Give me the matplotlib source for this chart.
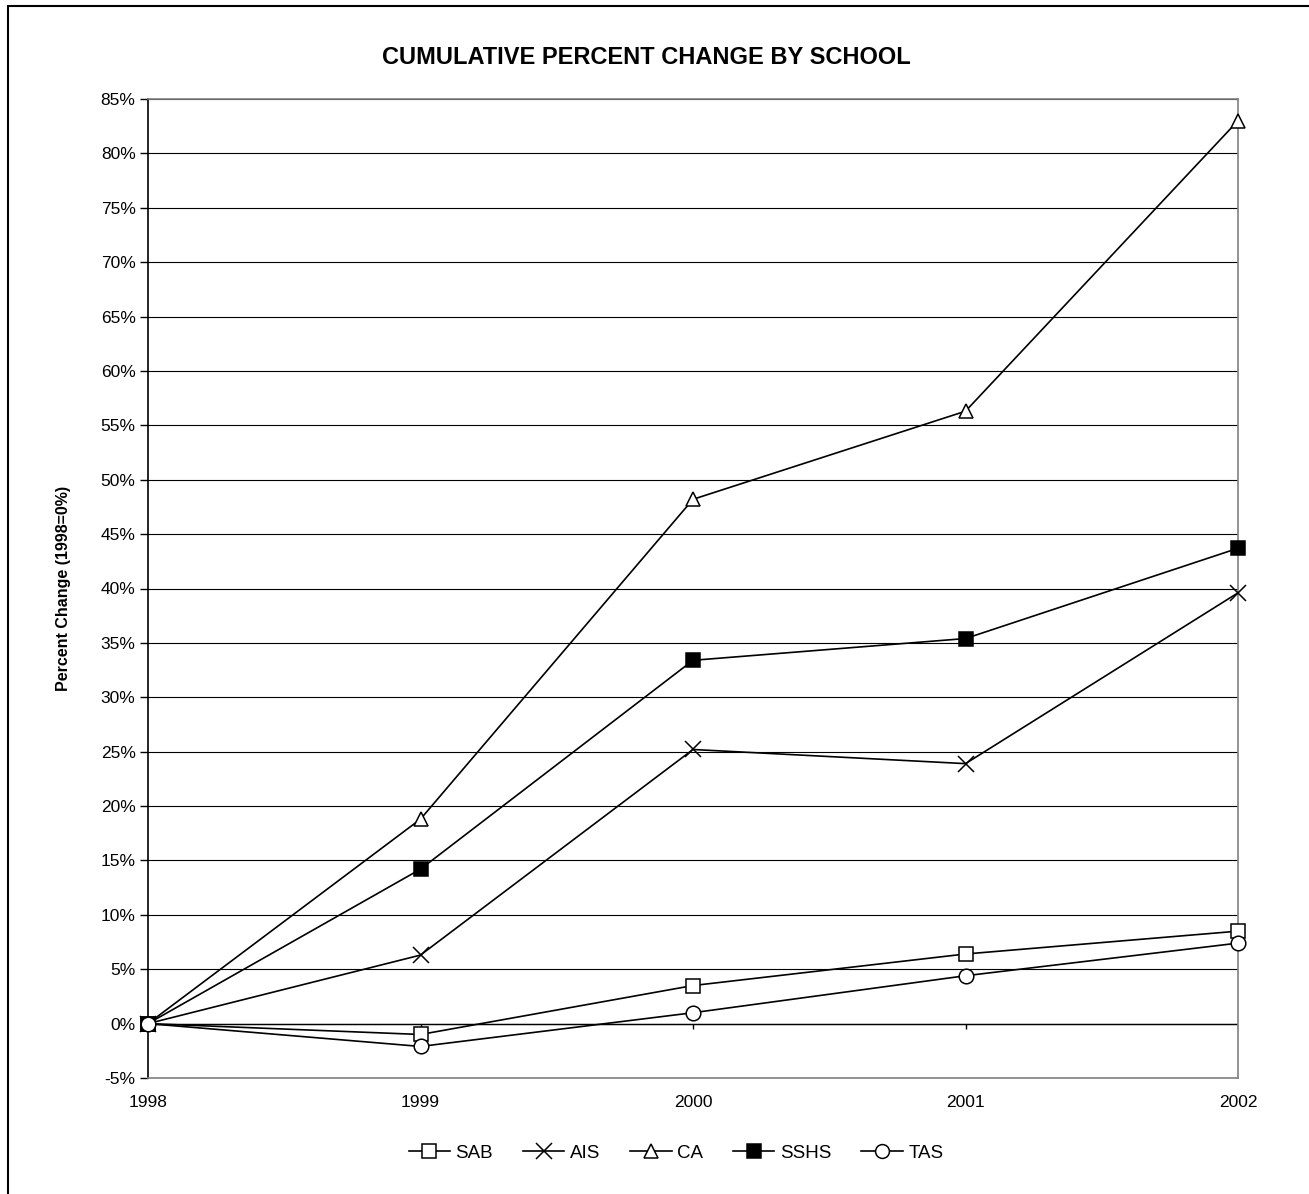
import matplotlib.pyplot as plt
from matplotlib.patches import Rectangle
from matplotlib.ticker import FuncFormatter

plt.rcParams['font.family'] = ['Liberation Sans', 'DejaVu Sans']

years = [1998, 1999, 2000, 2001, 2002]
sab = [0.0, -1.0, 3.5, 6.4, 8.5]
ais = [0.0, 6.3, 25.2, 23.9, 39.6]
ca = [0.0, 18.8, 48.2, 56.3, 83.0]
sshs = [0.0, 14.2, 33.4, 35.4, 43.7]
tas = [0.0, -2.1, 1.0, 4.4, 7.4]

fig = plt.figure(figsize=(13.09, 11.94), dpi=100)
fig.patches.append(Rectangle((8 / 1309, -0.05), 1.1, 1 - 6 / 1194 + 0.05,
                             transform=fig.transFigure, fill=False,
                             edgecolor='black', linewidth=1.5))

ax = fig.add_axes([148 / 1309, 1 - 1078 / 1194, 1090 / 1309, 979 / 1194])

style = dict(color='black', linewidth=1.2, markersize=10.5, markeredgewidth=1.1,
             clip_on=False, zorder=3)
ax.plot(years, sab, marker='s', markerfacecolor='white', label='SAB', **style)
ax.plot(years, ais, marker='x', markersize=12, color='black', linewidth=1.2,
        markeredgewidth=1.1, clip_on=False, zorder=3, label='AIS')
ax.plot(years, ca, marker='^', markerfacecolor='white', label='CA', **style)
ax.plot(years, sshs, marker='s', markerfacecolor='black', label='SSHS', **style)
ax.plot(years, tas, marker='o', markerfacecolor='white', label='TAS', **style)

ax.set_xlim(1998, 2002)
ax.set_ylim(-5, 85)
ax.set_yticks(range(-5, 90, 5))
ax.yaxis.set_major_formatter(FuncFormatter(lambda v, p: f"{int(v)}%"))
ax.set_xticks(years)
ax.set_xticklabels([str(y) for y in years])

ax.grid(axis='y', color='black', linewidth=0.8)
ax.set_axisbelow(True)
ax.axhline(0, color='black', linewidth=1.0, zorder=1.5)
ax.vlines(years, -0.5, 0, color='black', linewidth=1.0, zorder=1.5)

for side in ['top', 'right', 'bottom']:
    ax.spines[side].set_color('#808080')
    ax.spines[side].set_linewidth(1.2)
ax.spines['left'].set_color('black')
ax.spines['left'].set_linewidth(1.2)

ax.tick_params(axis='y', direction='out', length=6, width=1, labelsize=12.5, pad=3)
ax.tick_params(axis='x', length=0, labelsize=12.5, pad=12)

ax.set_ylabel('Percent Change (1998=0%)', fontsize=11.5, fontweight='bold', labelpad=21)
fig.text(646 / 1309, 1 - 57 / 1194, 'CUMULATIVE PERCENT CHANGE BY SCHOOL',
         ha='center', va='center', fontsize=17, fontweight='bold')

ax.legend(loc='center', bbox_to_anchor=(676 / 1309, 1 - 1153 / 1194),
          bbox_transform=fig.transFigure, ncol=5, frameon=False, fontsize=13.5,
          handlelength=2.2, columnspacing=1.6, handletextpad=0.3, markerscale=0.95)

plt.savefig('out.png', dpi=100)
